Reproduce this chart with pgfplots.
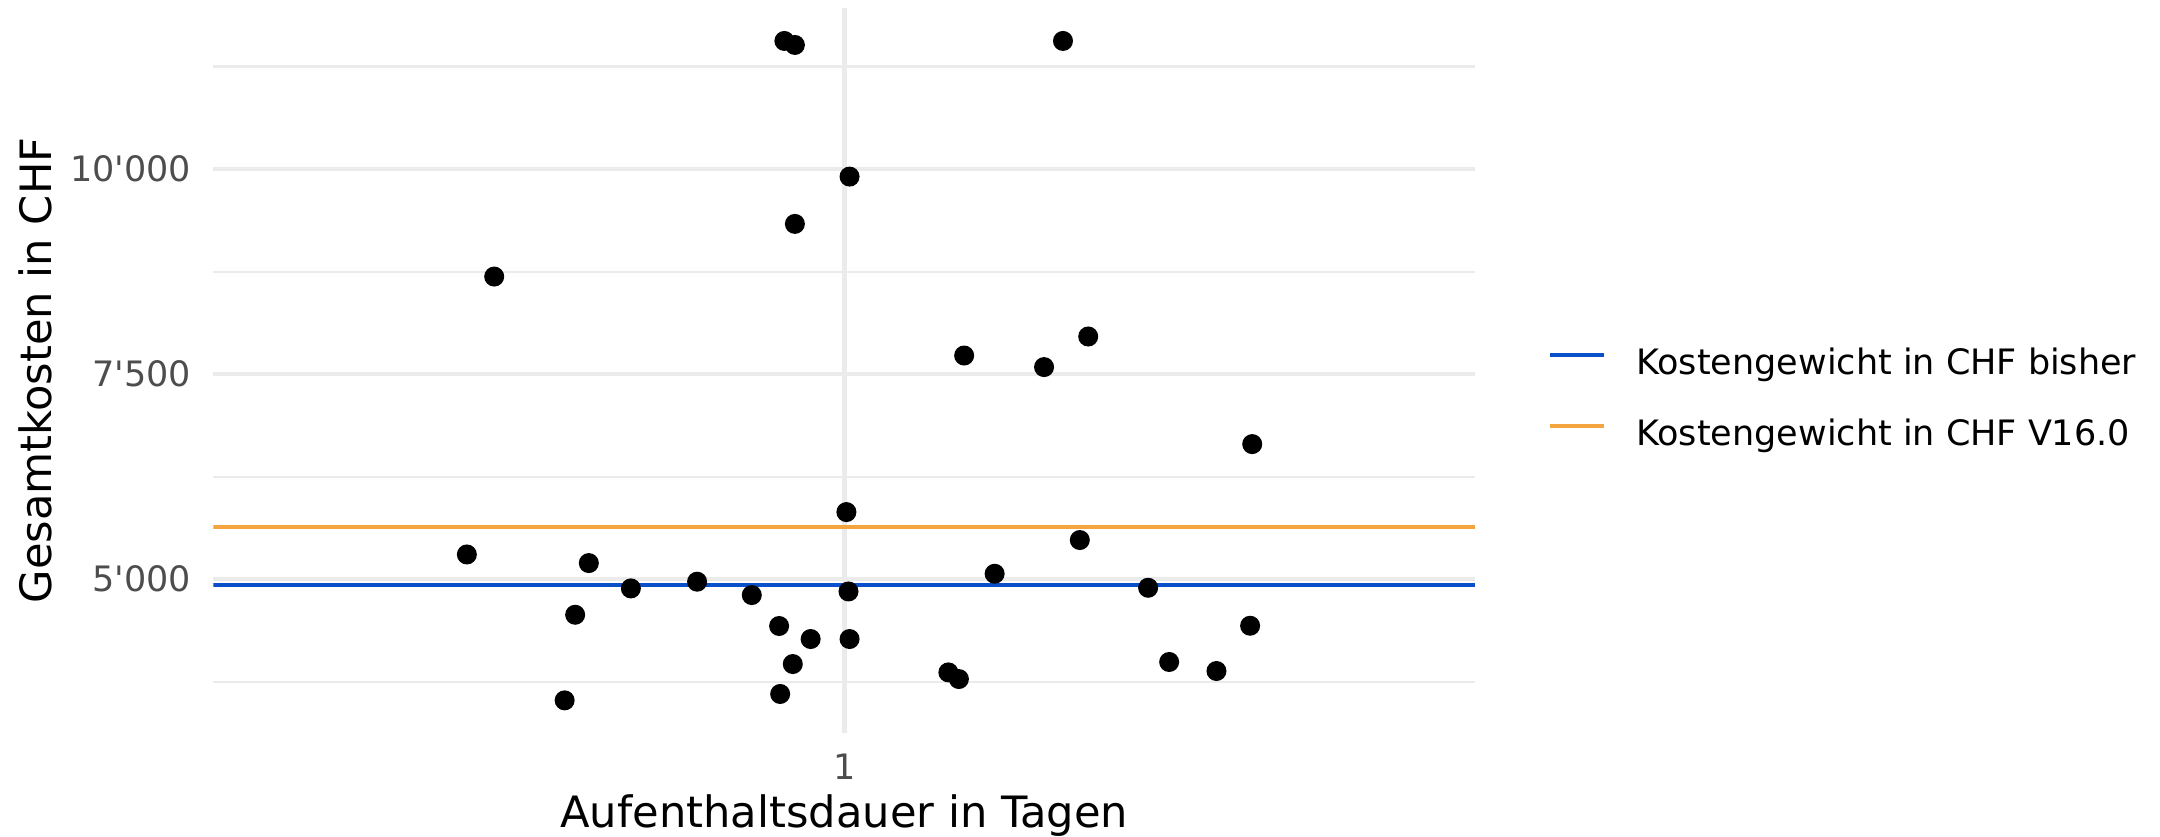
\documentclass[border=0pt]{standalone}
\usepackage{pgfplots}
\pgfplotsset{compat=1.18}
\usepackage{fontspec}
\setmainfont{DejaVu Sans}[Ligatures=TeXOff]
\definecolor{gridgray}{HTML}{EBEBEB}
\definecolor{ticktext}{HTML}{4D4D4D}
\definecolor{lineblue}{HTML}{0A50C8}
\definecolor{lineorange}{HTML}{F5A53E}
\pgfplotstableread{
x y
0.667 8691
0.943 11564
0.953 11515
1.208 11564
1.005 9910
0.953 9333
1.114 7728
1.190 7587
1.232 7960
0.641 5302
0.757 5197
0.797 4888
0.744 4567
0.734 3523
1.002 5819
0.860 4970
0.912 4807
1.004 4851
1.143 5067
0.938 4430
0.968 4271
1.005 4271
0.951 3966
1.099 3864
1.109 3783
0.939 3601
1.388 6648
1.224 5478
1.289 4896
1.386 4433
1.309 3991
1.354 3881
}\points
\begin{document}
\begin{tikzpicture}
\begin{axis}[
  at={(0,0)}, anchor=south west,
  width=315.4pt, height=181.25pt, scale only axis,
  xmin=0.4, xmax=1.6, ymin=3125, ymax=11966,
  axis line style={draw=none},
  tick style={draw=none},
  major tick length=0pt, minor tick length=0pt,
  xtick={1}, xticklabels={1},
  ytick={5000,7500,10000}, yticklabels={5'000,7'500,10'000},
  minor ytick={3750,6250,8750,11250},
  xmajorgrids, ymajorgrids, yminorgrids,
  major grid style={draw=gridgray, line width=1.1pt},
  minor grid style={draw=gridgray, line width=0.6pt},
  /pgf/number format/assume math mode=true,
  ticklabel style={font=\fontsize{8.75}{10}\selectfont, text=ticktext},
  xticklabel style={inner sep=0pt, yshift=-5pt},
  yticklabel style={inner sep=0pt, xshift=-5.4pt},
  xlabel={Aufenthaltsdauer in Tagen},
  ylabel={Gesamtkosten in CHF},
  label style={font=\fontsize{10.8}{13}\selectfont},
  x label style={at={(axis description cs:0.5,0)}, anchor=base, yshift=-23.5pt, inner sep=0pt},
  y label style={at={(axis description cs:-0.1281,0.5)}, anchor=base, rotate=0, inner sep=0pt},
  legend cell align=left,
  legend image code/.code={\draw[#1, line width=1.1pt] (0pt,0.27em) -- (13.5pt,0.27em);},
  legend style={draw=none, fill=none, at={(axis description cs:1.0577,0.4574)}, anchor=west,
    inner sep=0pt, outer sep=0pt, font=\fontsize{8.75}{10}\selectfont,
    row sep=9.45pt, column sep=7.5pt,
    nodes={inner sep=0pt, text height=6.4pt, text depth=1.9pt}},
]
\addplot[only marks, mark=*, mark size=2.3pt, black, forget plot] table[x=x, y=y] {\points};
\addplot[lineblue, line width=1.1pt] coordinates {(0.4,4933) (1.6,4933)};
\addlegendentry{Kostengewicht in CHF bisher}
\addplot[lineorange, line width=1.1pt] coordinates {(0.4,5636) (1.6,5636)};
\addlegendentry{Kostengewicht in CHF V16.0}
\end{axis}
\pgfresetboundingbox
\path[use as bounding box] (-53.375pt,-25.75pt) rectangle (486.625pt,183.25pt);
\end{tikzpicture}
\end{document}
